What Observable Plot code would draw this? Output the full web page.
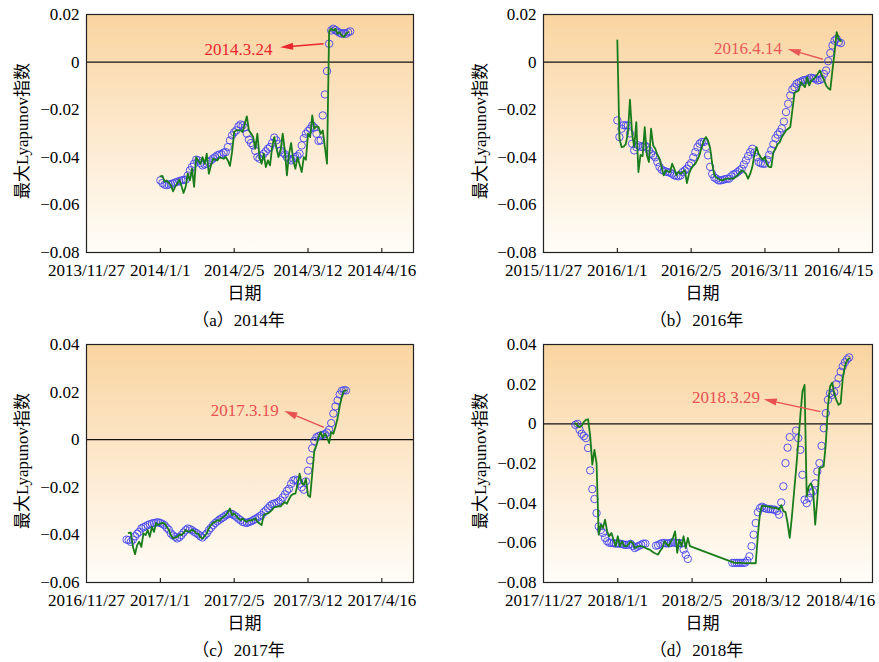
<!DOCTYPE html>
<html>
<head>
<meta charset="utf-8">
<script src="https://cdn.jsdelivr.net/npm/d3@7"></script>
<script src="https://cdn.jsdelivr.net/npm/@observablehq/plot@0.6"></script>
<style>
  body { margin: 0; background: #fff; }
  #fig { position: relative; width: 879px; height: 662px; overflow: hidden;
         font-family: "Liberation Serif", "Times New Roman", Times, "DejaVu Serif", "Noto Sans CJK SC", serif; color: #000; }
  .panel { position: absolute; }
  .lbl { position: absolute; font-size: 17px; white-space: nowrap; transform: translate(-50%, -50%); }
  .ytitle { position: absolute; font-size: 17px; white-space: nowrap; transform: translate(-50%, -50%) rotate(-90deg); }
</style>
</head>
<body>
<div id="fig"></div>
<script>
// ---- (a) 2014: daily values from 2014-01-01 ----
const aStart = "2014-01-01";
const aLine = [
  -0.0480,-0.0478,-0.0503,-0.0497,-0.0508,-0.0517,-0.0543,-0.0524,-0.0510,-0.0494,
  -0.0520,-0.0550,-0.0524,-0.0469,-0.0497,-0.0448,-0.0524,-0.0399,-0.0415,-0.0427,
  -0.0399,-0.0427,-0.0385,-0.0469,-0.0434,-0.0406,-0.0410,-0.0413,-0.0399,-0.0403,
  -0.0406,-0.0399,-0.0413,-0.0436,-0.0378,-0.0294,-0.0287,-0.0287,-0.0287,-0.0294,
  -0.0260,-0.0228,-0.0287,-0.0300,-0.0315,-0.0364,-0.0301,-0.0399,-0.0427,-0.0385,
  -0.0441,-0.0413,-0.0434,-0.0357,-0.0315,-0.0360,-0.0399,-0.0371,-0.0301,-0.0371,
  -0.0476,-0.0385,-0.0340,-0.0413,-0.0448,-0.0400,-0.0430,-0.0462,-0.0399,-0.0410,
  -0.0301,-0.0315,-0.0224,-0.0280,-0.0270,-0.0273,-0.0301,-0.0287,-0.0357,-0.0427,
   0.0130, 0.0140, 0.0133, 0.0140, 0.0119, 0.0126, 0.0112, 0.0105, 0.0119, 0.0126
];
const aDots = [
  -0.0497,-0.0508,-0.0515,-0.0517,-0.0515,-0.0512,-0.0510,-0.0506,-0.0503,-0.0500,
  -0.0497,-0.0495,-0.0494,-0.0476,-0.0455,-0.0440,-0.0427,-0.0410,-0.0413,-0.0424,
  -0.0434,-0.0430,-0.0427,-0.0420,-0.0413,-0.0405,-0.0399,-0.0392,-0.0388,-0.0387,
  -0.0380,-0.0378,-0.0357,-0.0329,-0.0308,-0.0295,-0.0287,-0.0270,-0.0262,-0.0266,
  -0.0275,-0.0301,-0.0326,-0.0340,-0.0350,-0.0373,-0.0399,-0.0406,-0.0395,-0.0385,
  -0.0375,-0.0364,-0.0357,-0.0340,-0.0317,-0.0329,-0.0345,-0.0371,-0.0380,-0.0387,
  -0.0400,-0.0406,-0.0413,-0.0406,-0.0399,-0.0395,-0.0385,-0.0350,-0.0320,-0.0301,
  -0.0290,-0.0280,-0.0266,-0.0275,-0.0301,-0.0331,-0.0329,-0.0224,-0.0136,-0.0038,
   0.0077, 0.0133, 0.0140, 0.0135, 0.0128, 0.0123, 0.0119, 0.0122, 0.0119, 0.0125, 0.0129
];

// ---- (b) 2016: daily values from 2016-01-01 ----
const bStart = "2016-01-01";
const bLine = [
   0.0091,-0.0320,-0.0357,-0.0355,-0.0345,-0.0300,-0.0158,-0.0300,-0.0357,-0.0252,
  -0.0462,-0.0390,-0.0395,-0.0273,-0.0390,-0.0420,-0.0280,-0.0350,-0.0364,-0.0390,
  -0.0406,-0.0441,-0.0476,-0.0455,-0.0460,-0.0462,-0.0427,-0.0448,-0.0476,-0.0460,
  -0.0469,-0.0462,-0.0455,-0.0508,-0.0469,-0.0448,-0.0435,-0.0427,-0.0410,-0.0390,
  -0.0357,-0.0330,-0.0315,-0.0329,-0.0360,-0.0427,-0.0475,-0.0485,-0.0490,-0.0495,
  -0.0497,-0.0492,-0.0490,-0.0490,-0.0490,-0.0490,-0.0483,-0.0476,-0.0465,-0.0455,
  -0.0460,-0.0470,-0.0490,-0.0470,-0.0441,-0.0390,-0.0357,-0.0385,-0.0400,-0.0410,
  -0.0399,-0.0430,-0.0441,-0.0441,-0.0378,-0.0365,-0.0345,-0.0336,-0.0315,-0.0301,
  -0.0287,-0.0280,-0.0273,-0.0203,-0.0130,-0.0124,-0.0119,-0.0084,-0.0095,-0.0105,
  -0.0063,-0.0098,-0.0077,-0.0072,-0.0063,-0.0050,-0.0035,-0.0055,-0.0075,-0.0098,
  -0.0110,-0.0116,-0.0035, 0.0040, 0.0126, 0.0098, 0.0088
];
const bDots = [
  -0.0245,-0.0315,-0.0280,-0.0265,-0.0266,-0.0266,-0.0300,-0.0343,-0.0371,-0.0357,
  -0.0350,-0.0355,-0.0357,-0.0350,-0.0357,-0.0371,-0.0385,-0.0392,-0.0400,-0.0420,
  -0.0440,-0.0452,-0.0456,-0.0460,-0.0462,-0.0465,-0.0469,-0.0476,-0.0478,-0.0480,
  -0.0476,-0.0462,-0.0455,-0.0448,-0.0434,-0.0424,-0.0400,-0.0378,-0.0357,-0.0343,
  -0.0336,-0.0336,-0.0357,-0.0392,-0.0440,-0.0470,-0.0485,-0.0490,-0.0497,-0.0497,
  -0.0495,-0.0492,-0.0490,-0.0490,-0.0480,-0.0472,-0.0469,-0.0462,-0.0455,-0.0448,
  -0.0430,-0.0413,-0.0395,-0.0378,-0.0364,-0.0380,-0.0399,-0.0420,-0.0425,-0.0427,
  -0.0427,-0.0410,-0.0390,-0.0370,-0.0345,-0.0320,-0.0305,-0.0294,-0.0278,-0.0250,
  -0.0210,-0.0175,-0.0140,-0.0115,-0.0105,-0.0091,-0.0086,-0.0082,-0.0077,-0.0075,
  -0.0074,-0.0068,-0.0066,-0.0068,-0.0070,-0.0077,-0.0075,-0.0070,-0.0050,-0.0035,
   0.0004, 0.0038, 0.0070, 0.0090, 0.0098, 0.0084, 0.0080
];

// ---- (c) 2017: daily values from 2016-12-16 ----
const cStart = "2016-12-16";
const cLine = [
   null, -0.0392,-0.0390,-0.0450,-0.0481,-0.0443,-0.0429,-0.0450,-0.0394,-0.0401,
  -0.0380,-0.0408,-0.0366,-0.0387,-0.0350,-0.0359,-0.0352,-0.0350,-0.0352,-0.0366,
  -0.0378,-0.0401,-0.0415,-0.0410,-0.0408,-0.0399,-0.0401,-0.0392,-0.0380,-0.0385,
  -0.0387,-0.0378,-0.0383,-0.0394,-0.0395,-0.0410,-0.0415,-0.0405,-0.0394,-0.0373,
  -0.0359,-0.0350,-0.0345,-0.0338,-0.0341,-0.0330,-0.0324,-0.0317,-0.0305,-0.0289,
  -0.0317,-0.0310,-0.0320,-0.0331,-0.0338,-0.0331,-0.0340,-0.0345,-0.0338,-0.0340,
  -0.0336,-0.0331,-0.0345,-0.0352,-0.0359,-0.0317,-0.0312,-0.0310,-0.0303,-0.0295,
  -0.0283,-0.0282,-0.0280,-0.0280,-0.0270,-0.0262,-0.0269,-0.0250,-0.0234,-0.0228,
  -0.0227,-0.0190,-0.0143,-0.0180,-0.0190,-0.0164,-0.0234,-0.0241,-0.0143,-0.0045,
  -0.0024, 0.0010, 0.0032, 0.0008, 0.0025, 0.0010,-0.0014, 0.0032, 0.0025, 0.0053,
   0.0090, 0.0140, 0.0180, 0.0205, 0.0207
];
const cDots = [
  -0.0420,-0.0422,-0.0429,-0.0420,-0.0406,-0.0395,-0.0387,-0.0373,-0.0368,-0.0364,
  -0.0359,-0.0355,-0.0352,-0.0350,-0.0348,-0.0347,-0.0350,-0.0354,-0.0359,-0.0370,
  -0.0378,-0.0394,-0.0402,-0.0408,-0.0415,-0.0410,-0.0401,-0.0390,-0.0380,-0.0373,
  -0.0376,-0.0380,-0.0387,-0.0392,-0.0398,-0.0406,-0.0411,-0.0402,-0.0394,-0.0380,
  -0.0370,-0.0359,-0.0350,-0.0343,-0.0336,-0.0330,-0.0325,-0.0318,-0.0313,-0.0310,
  -0.0312,-0.0318,-0.0324,-0.0332,-0.0338,-0.0345,-0.0348,-0.0350,-0.0346,-0.0343,
  -0.0338,-0.0333,-0.0328,-0.0322,-0.0317,-0.0305,-0.0297,-0.0288,-0.0278,-0.0271,
  -0.0268,-0.0266,-0.0260,-0.0255,-0.0243,-0.0230,-0.0215,-0.0206,-0.0185,-0.0171,
  -0.0168,-0.0172,-0.0185,-0.0200,-0.0210,-0.0175,-0.0130,-0.0087,-0.0036,-0.0005,
   0.0010, 0.0015, 0.0018, 0.0020, 0.0023, 0.0030, 0.0042, 0.0070, 0.0110, 0.0140,
   0.0165, 0.0190, 0.0205, 0.0208, 0.0207
];

// ---- (d) 2018: daily values from 2017-12-12 (null = no observation) ----
const dStart = "2017-12-12";
const dLine = [
   0.0003,-0.0010,-0.0017,-0.0010, 0.0010, 0.0020, 0.0023,-0.0060,-0.0206,-0.0131,
  -0.0200,-0.0559,-0.0508,-0.0525,-0.0483,-0.0543,-0.0567,-0.0550,-0.0584,-0.0617,
  -0.0567,-0.0617,-0.0592,-0.0617,-0.0617,-0.0609,-0.0592,-0.0600,-0.0626,-0.0620,
  -0.0617,-0.0617,-0.0620,-0.0626,-0.0630,-0.0634,-0.0642,-0.0650,-0.0655,-0.0659,
  -0.0640,-0.0626,-0.0592,-0.0605,-0.0617,-0.0592,-0.0575,-0.0542,-0.0650,-0.0584,
  -0.0617,-0.0567,-0.0626,-0.0575,-0.0617, null,   null,   null,   null,   null,
   null,   null,   null,   null,   null,   null,   null,   null,   null,   null,
   null,   null,   null,   null,   null,  -0.0701,-0.0701,-0.0701,-0.0701,-0.0702,
  -0.0702,-0.0702,-0.0702,-0.0703,-0.0703,-0.0703,-0.0560,-0.0450,-0.0413,-0.0415,
  -0.0415,-0.0418,-0.0420,-0.0424,-0.0424,-0.0425,-0.0433,-0.0410,-0.0440,-0.0445,
  -0.0500,-0.0575,-0.0470,-0.0350,-0.0230,-0.0100, 0.0040, 0.0163, 0.0196,-0.0366,
  -0.0315,-0.0300,-0.0332,-0.0508,-0.0380,-0.0223,-0.0220,-0.0215,-0.0100, 0.0087,
   0.0188, 0.0208, 0.0150, 0.0120, 0.0096, 0.0104, 0.0230, 0.0290, 0.0320, 0.0330
];
const dDots = [
  -0.0005, 0.0000,-0.0030,-0.0050,-0.0062,-0.0072,-0.0122,-0.0235,-0.0329,-0.0379,
  -0.0450,-0.0517,-0.0535,-0.0550,-0.0575,-0.0592,-0.0600,-0.0600,-0.0602,-0.0604,
  -0.0604,-0.0604,-0.0606,-0.0610,-0.0610,-0.0610,-0.0605,-0.0615,-0.0626,-0.0620,
  -0.0615,-0.0610,-0.0604,-0.0604, null,   null,   null,   null,  -0.0614,-0.0612,
  -0.0605,-0.0601,-0.0601,-0.0603,-0.0603,-0.0600,-0.0597,-0.0600,-0.0601,-0.0601,
  -0.0604,-0.0634,-0.0660,-0.0681, null,   null,   null,   null,   null,   null,
   null,   null,   null,   null,   null,   null,   null,   null,   null,   null,
   null,   null,   null,   null,  -0.0701,-0.0701,-0.0701,-0.0701,-0.0701,-0.0701,
  -0.0700,-0.0690,-0.0668,-0.0617,-0.0559,-0.0500,-0.0446,-0.0425,-0.0418,-0.0424,
  -0.0428,-0.0430,-0.0430,-0.0432,-0.0433,-0.0440,-0.0458,-0.0396,-0.0315,-0.0198,
  -0.0120,-0.0067, null,   null,  -0.0034,-0.0072,-0.0131,-0.0257,-0.0383,-0.0400,
  -0.0374,-0.0350,-0.0340,-0.0300,-0.0240,-0.0198,-0.0111,-0.0022, 0.0054, 0.0121,
   0.0154, 0.0146, 0.0160, 0.0200, 0.0230, 0.0263, 0.0290, 0.0310, 0.0325, 0.0335
];

// Axis ticks for each panel (dates every 35 days, values every 0.02)
const aDateTicks = ["2013-11-27", "2014-01-01", "2014-02-05", "2014-03-12", "2014-04-16"];
const bDateTicks = ["2015-11-27", "2016-01-01", "2016-02-05", "2016-03-11", "2016-04-15"];
const cDateTicks = ["2016-11-27", "2017-01-01", "2017-02-05", "2017-03-12", "2017-04-16"];
const dDateTicks = ["2017-11-27", "2018-01-01", "2018-02-05", "2018-03-12", "2018-04-16"];
const abValueTicks = [-0.08, -0.06, -0.04, -0.02, 0, 0.02];
const cValueTicks = [-0.06, -0.04, -0.02, 0, 0.02, 0.04];
const dValueTicks = [-0.08, -0.06, -0.04, -0.02, 0, 0.02, 0.04];

// Threshold-crossing notes: label text, where the text sits, where the arrow ends, and which dot it starts from
const notes = [
  {label: "2014.3.24", textAt: "2014-02-07", textY: 0.0052, tipAt: "2014-02-27", tipY: 0.0060, dotAt: "2014-03-22", color: "#e8262b"},
  {label: "2016.4.14", textAt: "2016-03-03", textY: 0.0058, tipAt: "2016-03-22", tipY: 0.0053, dotAt: "2016-04-10", color: "#e85858"},
  {label: "2017.3.19", textAt: "2017-02-10", textY: 0.0123, tipAt: "2017-03-01", tipY: 0.0119, dotAt: "2017-03-22", color: "#e85050"},
  {label: "2018.3.29", textAt: "2018-02-21", textY: 0.0131, tipAt: "2018-03-11", tipY: 0.0121, dotAt: "2018-04-09", color: "#e85050"}
];

const captions = ["（a）2014年", "（b）2016年", "（c）2017年", "（d）2018年"];
const yTitle = "最大Lyapunov指数";
const xTitle = "日期";

// ---------------------------------------------------------------
const DAY = 864e5;
const parse = s => new Date(s);
const series = (start, values) =>
  values.map((v, i) => ({date: new Date(Date.parse(start) + i * DAY), value: v}))
        .filter(d => d.value != null);
const fmtDate = d3.utcFormat("%Y/%-m/%-d");
const fmtVal = v => v === 0 ? "0" : d3.format(".2f")(v);
const SVGNS = "http://www.w3.org/2000/svg";
const FONT = "'Liberation Serif', 'Times New Roman', Times, 'DejaVu Serif', 'Noto Sans CJK SC', serif";

// Plot-area background: warm gradient fading to near white
const background = id => (index, scales, values, dims) => {
  const g = document.createElementNS(SVGNS, "g");
  const w = dims.width - dims.marginLeft - dims.marginRight;
  const h = dims.height - dims.marginTop - dims.marginBottom;
  g.innerHTML =
    `<defs><linearGradient id="${id}" x1="0" y1="0" x2="0" y2="1">` +
    `<stop offset="0" stop-color="#f9d4a0"/><stop offset="0.55" stop-color="#fdebd2"/>` +
    `<stop offset="1" stop-color="#fffdf8"/></linearGradient></defs>` +
    `<rect x="${dims.marginLeft}" y="${dims.marginTop}" width="${w}" height="${h}" fill="url(#${id})"/>`;
  return g;
};

// Straight arrow with a filled head, from a dot toward its label
const arrow = (from, to, color) => (index, {x, y}) => {
  const x1 = x(from.date), y1 = y(from.value), x2 = x(parse(to.at)), y2 = y(to.y);
  const dx = x2 - x1, dy = y2 - y1, L = Math.hypot(dx, dy), ux = dx / L, uy = dy / L;
  const sx = x1 + ux * 5, sy = y1 + uy * 5;         // start just outside the circle
  const hl = 13, hw = 3.6;
  const bx = x2 - ux * hl, by = y2 - uy * hl;
  const g = document.createElementNS(SVGNS, "g");
  g.innerHTML =
    `<line x1="${sx}" y1="${sy}" x2="${bx}" y2="${by}" stroke="${color}" stroke-width="1.4"/>` +
    `<path d="M${x2},${y2}L${bx - uy * hw},${by + ux * hw}L${bx + uy * hw},${by - ux * hw}Z" fill="${color}"/>`;
  return g;
};

const panels = [
  {left: 0,   top: 0,   width: 440, mr: 27, start: aStart, line: aLine, dots: aDots, xEnd: "2014-05-01",
   dTicks: aDateTicks, vTicks: abValueTicks, yDom: [-0.08, 0.02], note: notes[0]},
  {left: 457, top: 0,   width: 422, mr: 7,  start: bStart, line: bLine, dots: bDots, xEnd: "2016-05-01",
   dTicks: bDateTicks, vTicks: abValueTicks, yDom: [-0.08, 0.02], note: notes[1]},
  {left: 0,   top: 330, width: 440, mr: 27, start: cStart, line: cLine, dots: cDots, xEnd: "2017-05-01",
   dTicks: cDateTicks, vTicks: cValueTicks, yDom: [-0.06, 0.04], note: notes[2]},
  {left: 457, top: 330, width: 422, mr: 7,  start: dStart, line: dLine, dots: dDots, xEnd: "2018-05-01",
   dTicks: dDateTicks, vTicks: dValueTicks, yDom: [-0.08, 0.04], note: notes[3]}
];

const fig = document.getElementById("fig");

panels.forEach((p, k) => {
  const lineRows = series(p.start, p.line);
  const dotRows = series(p.start, p.dots);
  const ticks = p.dTicks.map(parse);
  const target = dotRows.find(d => +d.date === +parse(p.note.dotAt));
  const plotH = 238;

  const chart = Plot.plot({
    width: p.width,
    height: 14 + plotH + 32,
    marginLeft: 86, marginRight: p.mr, marginTop: 14, marginBottom: 32,
    style: {fontFamily: FONT, fontSize: "17px", background: "transparent", overflow: "visible", color: "#000"},
    x: {type: "utc", domain: [parse(p.dTicks[0]), parse(p.xEnd)]},
    y: {domain: p.yDom},
    marks: [
      background("bg" + k),
      Plot.ruleY([0], {stroke: "#111", strokeWidth: 1.2}),
      Plot.ruleX(ticks, {insetTop: plotH - 4, stroke: "#000", strokeWidth: 1}),
      Plot.axisX({ticks, tickSize: 0, tickPadding: 11, tickFormat: fmtDate, label: null,
                  fontSize: 17, fontFamily: FONT}),
      Plot.axisY({ticks: p.vTicks, tickSize: 0, tickPadding: 7, tickFormat: fmtVal, label: null,
                  fontSize: 17, fontFamily: FONT}),
      Plot.dot(dotRows, {x: "date", y: "value", r: 3.7, stroke: "#4343ee", strokeWidth: 0.9, fill: "none"}),
      Plot.line(lineRows, {x: "date", y: "value", stroke: "#1a7d1c", strokeWidth: 1.8}),
      arrow(target, {at: p.note.tipAt, y: p.note.tipY}, p.note.color),
      Plot.text([p.note], {x: d => parse(d.textAt), y: "textY", text: "label", fill: p.note.color,
                           fontSize: 17, fontFamily: FONT, textAnchor: "middle"}),
      Plot.frame({stroke: "#222", strokeWidth: 1.2})
    ]
  });

  const wrap = document.createElement("div");
  wrap.className = "panel";
  wrap.style.left = p.left + "px";
  wrap.style.top = p.top + "px";
  wrap.appendChild(chart);
  fig.appendChild(wrap);

  // axis titles and caption
  const cx = p.left + 86 + (p.width - 86 - p.mr) / 2 - 5;
  const add = (cls, text, x, y) => {
    const el = document.createElement("div");
    el.className = cls;
    el.textContent = text;
    el.style.left = x + "px";
    el.style.top = y + "px";
    fig.appendChild(el);
  };
  add("ytitle", yTitle, p.left + (k % 2 ? 21 : 20), p.top + 131);
  add("lbl", xTitle, cx, p.top + 291);
  add("lbl", captions[k], cx - 6, p.top + 318);
});
</script>
</body>
</html>
